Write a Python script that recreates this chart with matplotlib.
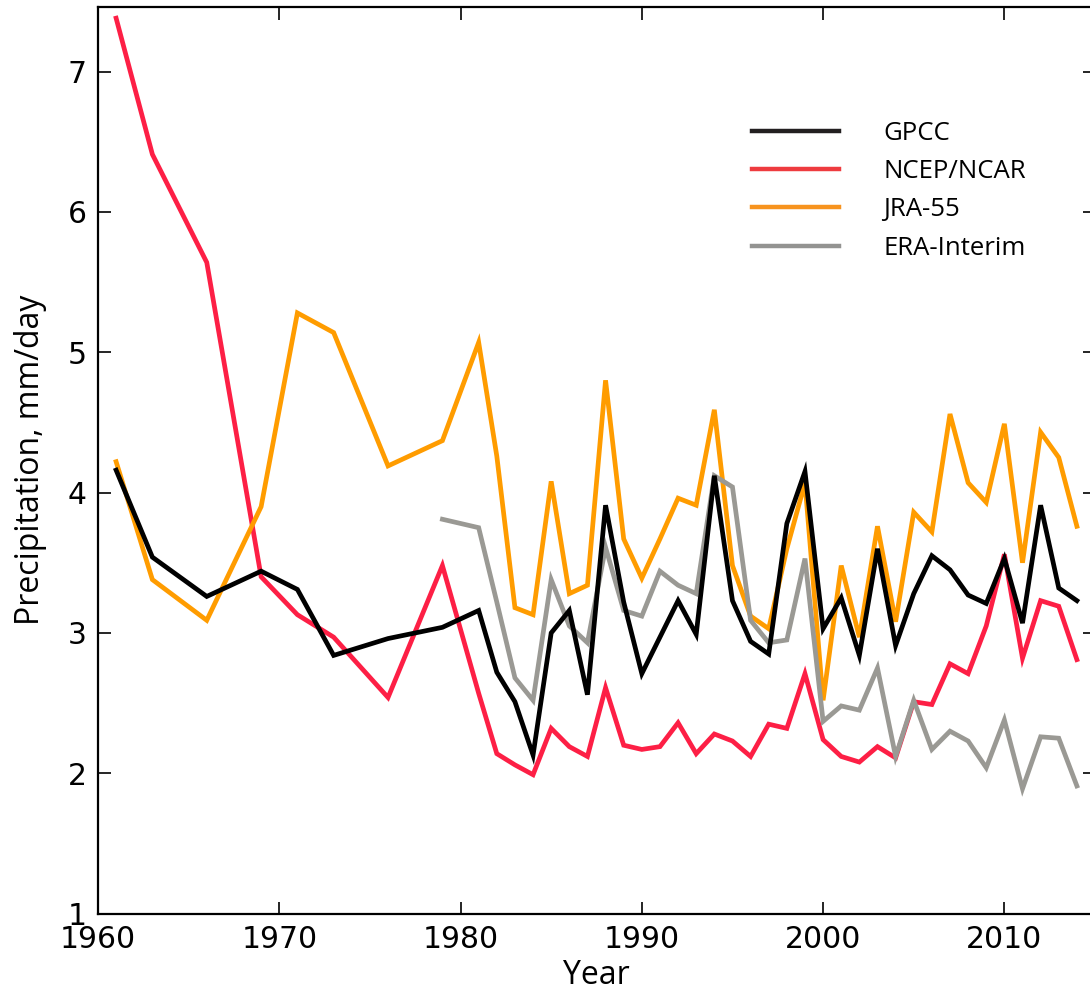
import matplotlib
matplotlib.use("Agg")
import matplotlib.pyplot as plt
from matplotlib.lines import Line2D

years = [1961, 1963, 1966, 1969, 1971, 1973, 1976, 1979] + list(range(1981, 2015))

gpcc = [4.16, 3.54, 3.26, 3.44, 3.31, 2.84, 2.96, 3.04,
        3.16, 2.72, 2.51, 2.13, 3.00, 3.16, 2.56, 3.91, 3.22, 2.71,
        2.97, 3.23, 2.99, 4.12, 3.23, 2.94, 2.85, 3.78, 4.15, 3.03,
        3.25, 2.84, 3.60, 2.91, 3.28, 3.55, 3.45, 3.27, 3.21, 3.53,
        3.07, 3.91, 3.32, 3.23]

ncep = [7.38, 6.41, 5.64, 3.40, 3.13, 2.97, 2.54, 3.48,
        2.57, 2.14, 2.06, 1.99, 2.32, 2.19, 2.12, 2.61, 2.20, 2.17,
        2.19, 2.36, 2.14, 2.28, 2.23, 2.12, 2.35, 2.32, 2.71, 2.24,
        2.12, 2.08, 2.19, 2.11, 2.51, 2.49, 2.78, 2.71, 3.05, 3.56,
        2.82, 3.23, 3.19, 2.81]

jra55 = [4.22, 3.38, 3.09, 3.90, 5.28, 5.14, 4.19, 4.37,
         5.07, 4.26, 3.18, 3.13, 4.08, 3.28, 3.34, 4.80, 3.67, 3.39,
         3.67, 3.96, 3.91, 4.59, 3.48, 3.12, 3.03, 3.60, 4.07, 2.52,
         3.48, 2.97, 3.76, 3.08, 3.86, 3.72, 4.56, 4.07, 3.93, 4.49,
         3.50, 4.43, 4.25, 3.76]

era_years = [1979] + list(range(1981, 2015))
era = [3.81,
       3.75, 3.22, 2.68, 2.52, 3.38, 3.05, 2.93, 3.61, 3.16, 3.12,
       3.44, 3.34, 3.28, 4.12, 4.04, 3.09, 2.93, 2.95, 3.53, 2.37,
       2.48, 2.45, 2.75, 2.12, 2.52, 2.17, 2.30, 2.23, 2.04, 2.38,
       1.89, 2.26, 2.25, 1.91]

labels = ["GPCC", "NCEP/NCAR", "JRA-55", "ERA-Interim"]
line_colors = ["#000000", "#fd1f45", "#ff9c00", "#9a9994"]
legend_colors = ["#231f20", "#ee3b3f", "#f7931e", "#939391"]

xticks = [1960, 1970, 1980, 1990, 2000, 2010]
yticks = [1, 2, 3, 4, 5, 6, 7]

fig = plt.figure(figsize=(10.9, 9.93), dpi=100)
ax = fig.add_axes([0.0899, 0.0799, 0.9147, 0.9131])

lw = 3.4
ax.plot(years, ncep, color=line_colors[1], lw=lw, zorder=2, solid_joinstyle="miter")
ax.plot(years, jra55, color=line_colors[2], lw=lw, zorder=3, solid_joinstyle="miter")
ax.plot(era_years, era, color=line_colors[3], lw=lw, zorder=4, solid_joinstyle="miter")
ax.plot(years, gpcc, color=line_colors[0], lw=lw, zorder=5, solid_joinstyle="miter")

ax.set_xlim(1960, 2015)
ax.set_ylim(1, 7.46)
ax.set_xticks(xticks)
ax.set_yticks(yticks)
ax.tick_params(direction="in", length=9, width=1.2, top=True, right=True,
               labelsize=21.5, pad=8)
for lab in ax.get_xticklabels() + ax.get_yticklabels():
    lab.set_family("DejaVu Sans")
for s in ax.spines.values():
    s.set_linewidth(1.6)

ax.set_xlabel("Year", fontsize=23, family="Open Sans", labelpad=4)
ax.set_ylabel("Precipitation, mm/day", fontsize=23, family="Open Sans", labelpad=15)

handles = [Line2D([], [], color=c, lw=3.2) for c in legend_colors]
leg = ax.legend(handles, labels, loc="upper left", bbox_to_anchor=(0.656, 0.8745),
                frameon=False, borderpad=0, borderaxespad=0,
                handlelength=3.4, handletextpad=1.7, labelspacing=0.52,
                prop={"family": "Open Sans", "size": 18.5})

fig.savefig("out.png", dpi=100)
